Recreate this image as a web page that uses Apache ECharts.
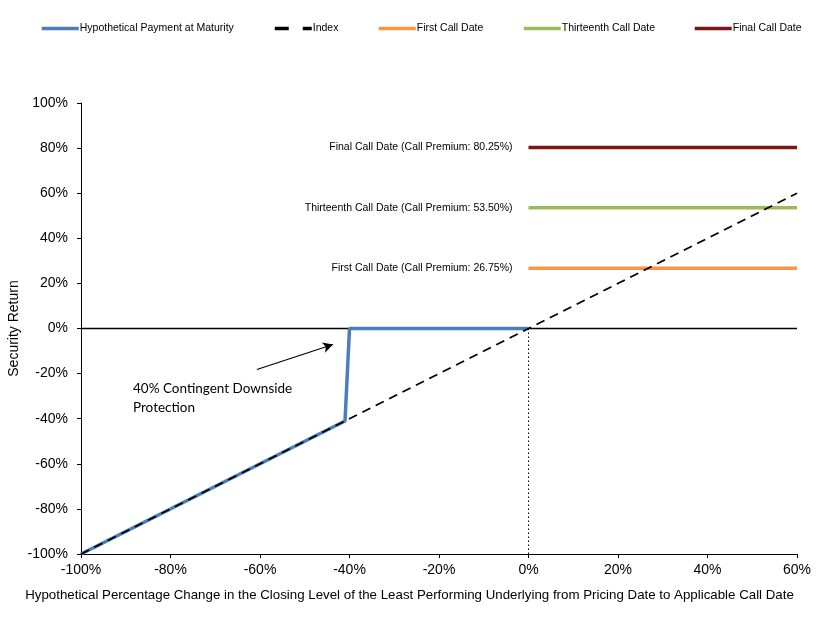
<!DOCTYPE html>
<html>
<head>
<meta charset="utf-8">
<script src="https://cdn.jsdelivr.net/npm/echarts@6/dist/echarts.min.js"></script>
<style>
  html, body { margin: 0; padding: 0; background: #fff; }
  #chart { width: 838px; height: 623px; }
</style>
</head>
<body>
<div id="chart"></div>
<script>
// 数据
var indexPoints = [[-100, -100], [60, 60]];
var paymentPoints = [[-100, -100], [-41, -41], [-40, 0], [0, 0]];
var zeroLinePoints = [[-100, 0], [60, 0]];
var dividerPoints = [[0, -100], [0, 0]];
var callNames = ['First Call Date', 'Thirteenth Call Date', 'Final Call Date'];
var callPremiums = [26.75, 53.50, 80.25];
var callRange = [0, 60];
var callColors = ['#F79646', '#9BBB59', '#7A1616'];
var arrowFrom = [-60.7, -18.2];
var arrowTo = [-43.7, -7.1];

var font = 'Liberation Sans, Arial, sans-serif';
var myChart = echarts.init(document.getElementById('chart'));

// 三条赎回线
var callSeries = callNames.map(function (name, i) {
  return {
    name: name,
    type: 'line',
    symbol: 'circle',
    symbolSize: 0,
    showSymbol: true,
    lineStyle: { color: callColors[i], width: 3.5 },
    itemStyle: { color: callColors[i] },
    label: { show: false },
    data: [
      {
        value: [callRange[0], callPremiums[i]],
        label: {
          show: true,
          position: 'left',
          distance: 16,
          color: '#000',
          fontFamily: font,
          fontSize: 10.5,
          formatter: name + ' (Call Premium: ' + callPremiums[i].toFixed(2) + '%)'
        }
      },
      [callRange[1], callPremiums[i]]
    ],
    z: 3
  };
});

function legendAt(name, left, dashed) {
  return {
    data: [name],
    left: left,
    top: 23,
    itemWidth: 37,
    itemHeight: 14,
    itemGap: 0,
    padding: 0,
    itemStyle: { opacity: 0 },
    lineStyle: dashed ? { width: 3.5, type: [14, 14] } : { width: 3.5 },
    textStyle: { fontFamily: font, fontSize: 10.5, color: '#000', padding: [0, 0, 0, -4] }
  };
}

var option = {
  animation: false,
  backgroundColor: '#fff',
  legend: [
    legendAt('Hypothetical Payment at Maturity', 40),
    legendAt('Index', 273, true),
    legendAt('First Call Date', 377),
    legendAt('Thirteenth Call Date', 522),
    legendAt('Final Call Date', 693)
  ],
  grid: { left: 81, right: 41, top: 103, bottom: 69, containLabel: false, outerBoundsMode: 'none' },
  xAxis: {
    type: 'value',
    min: -100,
    max: 60,
    interval: 20,
    name: 'Hypothetical Percentage Change in the Closing Level of the Least Performing Underlying from Pricing Date to Applicable Call Date',
    nameLocation: 'middle',
    nameGap: 35,
    nameMoveOverlap: false,
    nameTextStyle: { fontFamily: font, fontSize: 13.3, color: '#000', padding: [0, 59, 0, 0] },
    axisLine: { onZero: false, lineStyle: { color: '#000', width: 1 } },
    axisTick: { show: true, length: 4, lineStyle: { color: '#000' } },
    axisLabel: { fontFamily: font, fontSize: 14, color: '#000', margin: 9, formatter: '{value}%' },
    splitLine: { show: false }
  },
  yAxis: {
    type: 'value',
    min: -100,
    max: 100,
    interval: 20,
    name: 'Security Return',
    nameLocation: 'middle',
    nameGap: 60,
    nameMoveOverlap: false,
    nameTextStyle: { fontFamily: font, fontSize: 14, color: '#000' },
    axisLine: { show: true, onZero: false, lineStyle: { color: '#000', width: 1 } },
    axisTick: { show: true, length: 4, lineStyle: { color: '#000' } },
    axisLabel: { fontFamily: font, fontSize: 14, color: '#000', margin: 13, formatter: '{value}%' },
    splitLine: { show: false }
  },
  graphic: [
    {
      type: 'text',
      left: 133,
      top: 379,
      style: {
        text: '40% Contingent Downside\nProtection',
        font: '13.5px Lato, "Open Sans", sans-serif',
        lineHeight: 19,
        fill: '#000'
      }
    }
  ],
  series: [
    {
      name: 'zero',
      type: 'line',
      symbol: 'none',
      silent: true,
      lineStyle: { color: '#000', width: 1.6 },
      data: zeroLinePoints,
      z: 1
    },
    {
      name: 'divider',
      type: 'line',
      symbol: 'none',
      silent: true,
      lineStyle: { color: '#000', width: 1, type: [1.5, 2.5] },
      data: dividerPoints,
      z: 1
    },
    {
      name: 'Hypothetical Payment at Maturity',
      type: 'line',
      symbol: 'none',
      lineStyle: { color: '#4A7EBB', width: 3.5 },
      itemStyle: { color: '#4A7EBB' },
      data: paymentPoints,
      z: 2
    },
    {
      name: 'Index',
      type: 'line',
      symbol: 'none',
      lineStyle: { color: '#000', width: 1.8, type: [9, 6] },
      itemStyle: { color: '#000' },
      data: indexPoints,
      markLine: {
        silent: true,
        symbol: ['none', 'arrow'],
        symbolSize: [8, 10],
        label: { show: false },
        lineStyle: { color: '#000', width: 1.2, type: 'solid' },
        data: [[{ coord: arrowFrom }, { coord: arrowTo }]]
      },
      z: 4
    }
  ].concat(callSeries)
};

myChart.setOption(option);
</script>
</body>
</html>
